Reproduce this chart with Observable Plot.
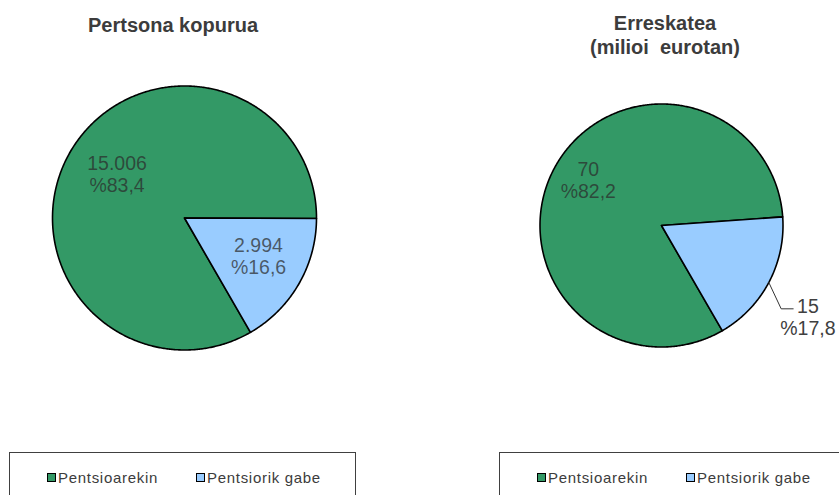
<!DOCTYPE html>
<html>
<head>
<meta charset="utf-8">
<script src="https://cdn.jsdelivr.net/npm/d3@7"></script>
<script src="https://cdn.jsdelivr.net/npm/@observablehq/plot@0.6"></script>
<style>
html, body { margin: 0; padding: 0; background: #fff; overflow: hidden; }
#root { position: relative; width: 839px; height: 495px; overflow: hidden; font-family: "Liberation Sans", Arial, sans-serif; }
.title { position: absolute; font-weight: bold; font-size: 20px; line-height: 24px; color: #3c3c3c; text-align: center; white-space: pre; transform: translateX(-50%); }
.plot { position: absolute; top: 0; }
.legend { position: absolute; top: 452px; height: 70px; border: 1px solid #404040; box-sizing: border-box; background: #fff; }
.item { position: absolute; top: 15px; display: flex; align-items: center; height: 18px; font-size: 15px; letter-spacing: 0.7px; color: #3c3c3c; white-space: nowrap; }
.sw { width: 7px; height: 7px; border: 1.5px solid #000; margin-right: 2px; }
</style>
</head>
<body>
<div id="root"></div>
<script>
// ---- data ----
const categories = ["Pentsioarekin", "Pentsiorik gabe"];
const colors = ["#339966", "#99ccff"];
const personCounts = [15006, 2994];
const personShares = [83.4, 16.6];
const rescueAmounts = [70, 15];          // milioi eurotan
const rescueShares = [82.2, 17.8];
const titles = ["Pertsona kopurua", "Erreskatea\n(milioi  eurotan)"];

// ---- layout (positions / styles only) ----
const startDeg = 150;
const pies = [
  {values: personCounts, shares: personShares, left: 0, width: 420, cx: 184, cy: 217.5, r: 132,
   titleX: 173, titleTop: 13, labelR: [0.61, 0.63], labelShift: [3, -3], leader: [null, null],
   legendLeft: 9, legendWidth: 347},
  {values: rescueAmounts, shares: rescueShares, left: 420, width: 419, cx: 241, cy: 225, r: 121.5,
   titleX: 665, titleTop: 11, labelR: [0.71, 1.42], labelShift: [4, 4],
   leader: [null, {elbow: [-26.7, -8], end: [-14.7, -8]}],
   legendLeft: 499, legendWidth: 400}
];
const legendOffsets = [37, 186];

const loc = d3.formatLocale({decimal: ",", thousands: ".", grouping: [3], currency: ["", " €"]});
const fmtN = loc.format(",d");
const fmtP = loc.format(".1f");
const rad = d => d * Math.PI / 180;

const root = document.getElementById("root");

pies.forEach((p, pi) => {
  const arcs = d3.pie().sort(null).value(d => d)
    .startAngle(rad(startDeg)).endAngle(rad(startDeg + 360))(p.shares);

  const slices = arcs.map((a, i) => ({
    cat: categories[i], value: p.values[i], share: p.shares[i],
    a0: a.startAngle, a1: a.endAngle, mid: (a.startAngle + a.endAngle) / 2, i
  }));

  const pts = [];
  slices.forEach(s => {
    pts.push({cat: s.cat, x: 0, y: 0});
    const n = Math.max(2, Math.ceil((s.a1 - s.a0) / rad(0.5)));
    for (let k = 0; k <= n; k++) {
      const t = s.a0 + (s.a1 - s.a0) * k / n;
      pts.push({cat: s.cat, x: Math.sin(t), y: Math.cos(t)});
    }
  });

  const labels = slices.map(s => {
    const a = s.mid + rad(p.labelShift[s.i]);
    const R = p.labelR[s.i];
    return {x: R * Math.sin(a), y: R * Math.cos(a), outside: R > 1,
            text: fmtN(s.value) + "\n%" + fmtP(s.share), s};
  });

  const leaders = [];
  slices.forEach(s => {
    const L = p.leader[s.i];
    if (!L) return;
    const lab = labels[s.i];
    leaders.push({id: s.i, x: Math.sin(s.mid), y: Math.cos(s.mid)});
    leaders.push({id: s.i, x: lab.x + L.elbow[0] / p.r, y: lab.y - L.elbow[1] / p.r});
    leaders.push({id: s.i, x: lab.x + L.end[0] / p.r, y: lab.y - L.end[1] / p.r});
  });

  const chart = Plot.plot({
    width: p.width,
    height: 450,
    margin: 0,
    x: {domain: [-1, 1], range: [p.cx - p.r, p.cx + p.r], axis: null},
    y: {domain: [-1, 1], range: [p.cy + p.r, p.cy - p.r], axis: null},
    color: {domain: categories, range: colors},
    style: {fontFamily: "'Liberation Sans', Arial, sans-serif", background: "transparent", overflow: "visible"},
    marks: [
      Plot.line(pts, {x: "x", y: "y", z: "cat", fill: "cat", stroke: "#000", strokeWidth: 1.6,
                      curve: "linear-closed", strokeLinejoin: "round"}),
      Plot.line(leaders, {x: "x", y: "y", z: "id", stroke: "#333", strokeWidth: 1}),
      Plot.text(labels.filter(d => !d.outside), {x: "x", y: "y", text: "text", fontSize: 19.5, lineHeight: 1.12,
                         fill: "#2b2b2b", fillOpacity: 0.72, textAnchor: "middle"}),
      Plot.text(labels.filter(d => d.outside), {x: "x", y: "y", text: "text", fontSize: 19.5, lineHeight: 1.12,
                         fill: "#404040", textAnchor: "middle"})
    ]
  });
  chart.classList.add("plot");
  chart.style.left = p.left + "px";
  root.appendChild(chart);

  const t = document.createElement("div");
  t.className = "title";
  t.textContent = titles[pi];
  t.style.left = p.titleX + "px";
  t.style.top = p.titleTop + "px";
  root.appendChild(t);

  const lg = document.createElement("div");
  lg.className = "legend";
  lg.style.left = p.legendLeft + "px";
  lg.style.width = p.legendWidth + "px";
  categories.forEach((c, i) => {
    const it = document.createElement("div");
    it.className = "item";
    it.style.left = legendOffsets[i] + "px";
    const sw = document.createElement("div");
    sw.className = "sw";
    sw.style.background = colors[i];
    const tx = document.createElement("span");
    tx.textContent = c;
    it.appendChild(sw);
    it.appendChild(tx);
    lg.appendChild(it);
  });
  root.appendChild(lg);
});
</script>
</body>
</html>
